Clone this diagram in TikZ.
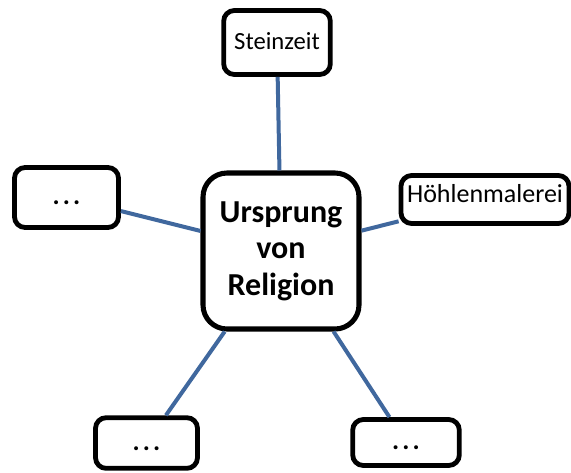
\documentclass[tikz,border=0pt]{standalone}
\usepackage{fontspec}
\setmainfont{Carlito}
\newfontfamily\dotsfont[LetterSpace=12]{Carlito}
\definecolor{linkblue}{RGB}{64,104,158}

\tikzset{
  box/.style={draw=black, line width=3.6pt, rounded corners=8pt, fill=white,
    inner sep=2pt, text height=14pt, text depth=3pt,
    font=\fontsize{18.5}{22}\selectfont},
  dotbox/.style={box, font=\fontsize{20}{22}\selectfont\dotsfont\bfseries},
  hub/.style={draw=black, line width=3.8pt, rounded corners=18pt, fill=white,
    minimum width=117pt, minimum height=117pt, align=center,
    font=\fontsize{24}{27.5}\selectfont\bfseries},
  link/.style={draw=linkblue, line width=3pt}
}

\begin{document}
\begin{tikzpicture}[x=0.75pt, y=-0.75pt]
\useasboundingbox (0,0) rectangle (571,472);

% topics round the hub
\node[hub] (religion) at (281,251) {Ursprung\\von\\Religion};
\node[box, minimum width=80pt, minimum height=48pt] (steinzeit) at (277,42.5) {Steinzeit};
\node[box, minimum width=126pt, minimum height=36pt, text depth=9pt,
  font=\fontsize{19.5}{22}\selectfont] (hoehle) at (485,199.5) {Höhlenmalerei};
\node[dotbox, minimum width=78pt, minimum height=45pt] (links) at (66.5,197.5) {...};
\node[dotbox, minimum width=76.5pt, minimum height=38pt] (untenlinks) at (146.5,443) {...};
\node[dotbox, minimum width=80pt, minimum height=34.5pt] (untenrechts) at (406,442.5) {...};

% connectors
\draw[link] (religion) -- (steinzeit);
\draw[link] (religion) -- (hoehle);
\draw[link] (religion) -- (links);
\draw[link] (religion) -- (untenlinks);
\draw[link] (religion) -- (untenrechts);

\end{tikzpicture}
\end{document}
